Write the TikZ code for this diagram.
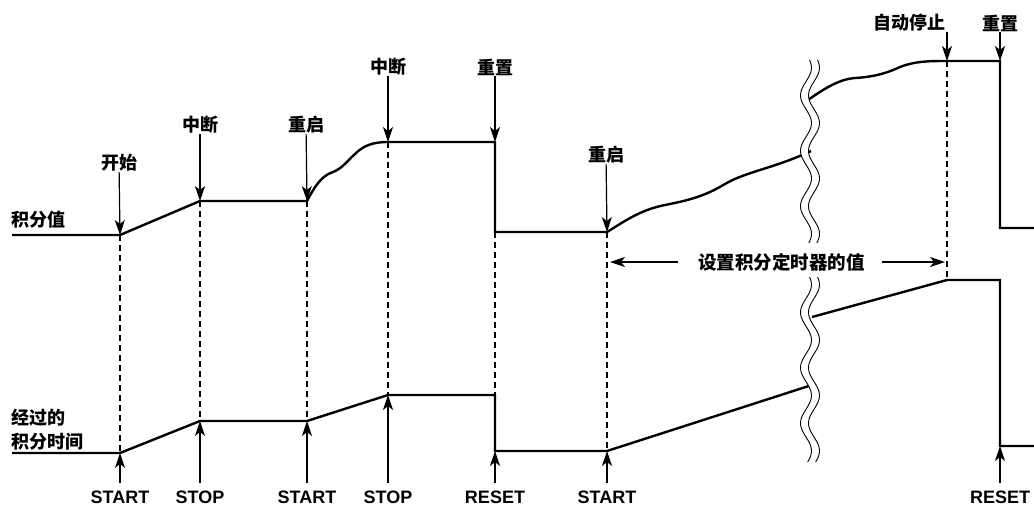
\documentclass[tikz,border=0pt]{standalone}
\usepackage{fontspec}
\setmainfont{Liberation Sans}
\newfontfamily\cjk{Noto Sans CJK SC}
\usetikzlibrary{arrows.meta}

\begin{document}
\begin{tikzpicture}[
    x=1pt, y=-1pt,
    curve/.style={line width=2.4pt, line join=miter},
    guide/.style={line width=1.1pt, dash pattern=on 6pt off 4pt},
    ptr/.style={-{Stealth[length=15pt, width=10pt, inset=4pt]}, line width=1.2pt},
    cn/.style={font=\cjk\bfseries\fontsize{18}{24}\selectfont, inner sep=0pt},
    en/.style={font=\bfseries\fontsize{18}{20}\selectfont, inner sep=0pt},
    wave/.style={line width=0.9pt}
]
    \useasboundingbox (0,0) rectangle (1034,507);

    % upper trace: integrated value
    \coordinate (a0) at (12,235);   \coordinate (a1) at (120,235);
    \coordinate (a2) at (200,201);  \coordinate (a3) at (307,201);
    \coordinate (a4) at (388,142);  \coordinate (a5) at (495,142);
    \coordinate (a6) at (495,232);  \coordinate (a7) at (607,232);
    \coordinate (a8) at (811,151);  \coordinate (b0) at (808,100);
    \coordinate (a9) at (947,61);   \coordinate (a10) at (1000,61);
    \coordinate (a11) at (1000,228); \coordinate (a12) at (1034,228);

    % lower trace: elapsed integration time
    \coordinate (c0) at (12,453);   \coordinate (c1) at (120,453);
    \coordinate (c2) at (200,421);  \coordinate (c3) at (307,421);
    \coordinate (c4) at (388,395);  \coordinate (c5) at (495,395);
    \coordinate (c6) at (495,451);  \coordinate (c7) at (607,451);
    \coordinate (c8) at (815,384);  \coordinate (d0) at (812,317);
    \coordinate (c9) at (947,280);  \coordinate (c10) at (1000,280);
    \coordinate (c11) at (1000,446); \coordinate (c12) at (1034,446);

    % dashed guides
    \foreach \i in {1,2,3,4,7,9}
        \draw[guide] (a\i) -- (c\i);
    \draw[guide] (a6) -- (c5);

    \draw[curve] (a0) -- (a1) -- (a2) -- (a3)
        .. controls (313,190) and (320,176) .. (333,172)
        .. controls (343,168) and (348,160) .. (355,154)
        .. controls (363,146) and (372,142) .. (a4)
        -- (a5) -- (a6) -- (a7)
        .. controls (625,221) and (640,210) .. (665,205)
        .. controls (690,200) and (705,196) .. (725,184)
        .. controls (745,172) and (775,168) .. (a8);
    \draw[curve] (b0) .. controls (825,88) and (840,79) .. (855,78)
        .. controls (872,77) and (885,74) .. (900,67)
        .. controls (915,61) and (930,61) .. (a9)
        -- (a10) -- (a11) -- (a12);

    \draw[curve] (c0) -- (c1) -- (c2) -- (c3) -- (c4) -- (c5) -- (c6) -- (c7) -- (c8);
    \draw[curve] (d0) -- (c9) -- (c10) -- (c11) -- (c12);

    % break marks
    \foreach \ya/\yb in {60/243, 277/462} {
        \fill[white] plot[domain=\ya:\yb, samples=80] ({806+5.5*sin(6.5*(\x-\ya)+40)}, \x)
            -- plot[domain=\yb:\ya, samples=80] ({814+5.5*sin(6.5*(\x-\ya)+40)}, \x) -- cycle;
        \draw[wave] plot[domain=\ya:\yb, samples=80] ({806+5.5*sin(6.5*(\x-\ya)+40)}, \x);
        \draw[wave] plot[domain=\ya:\yb, samples=80] ({814+5.5*sin(6.5*(\x-\ya)+40)}, \x);
    }

    % event labels above
    \node[cn] (kaishi) at (119,163) {开始};
    \node[cn] (zhong1) at (200,125) {中断};
    \node[cn] (qi1) at (306,125) {重启};
    \node[cn] (zhong2) at (388,67) {中断};
    \node[cn] (zhi1) at (495,67) {重置};
    \node[cn] (qi2) at (606,155) {重启};
    \node[cn] (auto) at (909,23) {自动停止};
    \node[cn] (zhi2) at (1000,23) {重置};

    \draw[ptr] (kaishi) -- (a1);
    \draw[ptr] (zhong1) -- (a2);
    \draw[ptr] (qi1) -- (a3);
    \draw[ptr] (zhong2) -- (a4);
    \draw[ptr] (zhi1) -- (a5);
    \draw[ptr] (qi2) -- (a7);
    \draw[ptr] (auto.south -| a9) -- (a9);
    \draw[ptr] (zhi2) -- (a10);

    % signal labels below
    \node[en] (s1) at (120,497) {START};
    \node[en] (s2) at (200,497) {STOP};
    \node[en] (s3) at (307,497) {START};
    \node[en] (s4) at (388,497) {STOP};
    \node[en] (s5) at (495,497) {RESET};
    \node[en] (s6) at (607,497) {START};
    \node[en] (s7) at (1000,497) {RESET};

    \draw[ptr, shorten <=7pt] (s1) -- (c1);
    \draw[ptr, shorten <=7pt] (s2) -- (c2);
    \draw[ptr, shorten <=7pt] (s3) -- (c3);
    \draw[ptr, shorten <=7pt] (s4) -- (c4);
    \draw[ptr, shorten <=7pt] (s5) -- (c6);
    \draw[ptr, shorten <=7pt] (s6) -- (c7);
    \draw[ptr, shorten <=7pt] (s7) -- (c11);

    % trace names
    \node[cn, anchor=west] (jfz) at (11,220) {积分值};
    \node[cn, anchor=west, align=left] (jgsj) at (11,430) {经过的\\积分时间};

    % timer span
    \coordinate (tl) at (610,262);
    \coordinate (tr) at (945,262);
    \node[cn, font=\cjk\bfseries\fontsize{18.5}{24}\selectfont] (timer) at (781.5,262) {设置积分定时器的值};
    \draw[ptr, shorten <=20pt] (timer) -- (tl);
    \draw[ptr, shorten <=17pt] (timer) -- (tr);
\end{tikzpicture}
\end{document}
